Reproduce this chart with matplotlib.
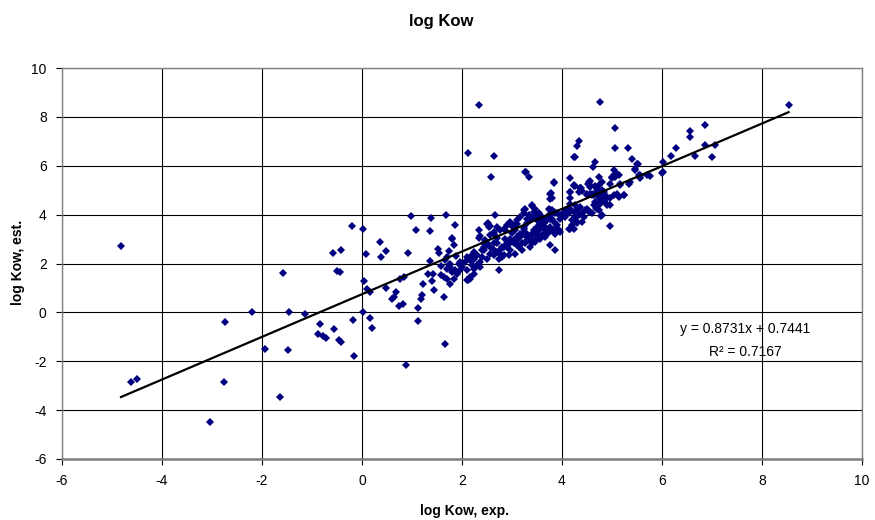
import matplotlib
matplotlib.use('Agg')
import matplotlib.pyplot as plt

plt.rcParams['font.family'] = ['Liberation Sans', 'DejaVu Sans']
plt.rcParams['axes.unicode_minus'] = False

# points (log Kow exp., log Kow est.)
pts = [
    # sparse low end
    (-4.82, 2.70), (-0.20, 3.54), (-0.59, 2.43), (-0.43, 2.54), (-1.58, 1.61),
    (-0.51, 1.69), (-0.45, 1.67), (-2.20, 0.03), (-1.47, 0.03), (-1.14, -0.08),
    (-2.75, -0.41), (-0.18, -0.31), (-0.85, -0.49), (-0.56, -0.67), (-0.89, -0.90),
    (-0.79, -0.96), (-0.73, -1.04), (-0.47, -1.12), (-0.43, -1.20), (-1.95, -1.48),
    (-1.48, -1.52), (-0.16, -1.79), (-4.62, -2.83), (-4.51, -2.73), (-2.77, -2.83),
    (-1.65, -3.46), (-3.05, -4.48),
    # 0 .. 2
    (0.02, 3.40), (0.98, 3.93), (1.38, 3.87), (1.67, 3.99), (1.85, 3.59),
    (1.08, 3.39), (1.36, 3.35), (0.35, 2.88), (0.48, 2.50), (0.38, 2.27),
    (0.08, 2.40), (0.91, 2.42), (1.80, 3.00), (1.51, 2.58), (1.53, 2.43),
    (1.83, 2.75), (1.74, 2.53), (1.36, 2.09), (0.03, 1.28), (0.10, 0.96),
    (0.15, 0.85), (0.48, 1.01), (0.76, 1.38), (0.84, 1.43), (0.67, 0.83),
    (0.59, 0.56), (0.63, 0.63), (0.73, 0.25), (0.81, 0.34), (1.21, 1.16),
    (1.19, 0.70), (1.17, 0.56), (1.43, 0.93), (1.39, 1.28), (1.31, 1.56),
    (1.41, 1.59), (1.63, 0.62), (1.11, 0.18), (1.11, -0.37), (0.02, 0.03),
    (0.15, -0.25), (0.20, -0.64), (0.87, -2.14), (1.66, -1.31), (1.57, 1.89),
    (1.65, 2.13), (1.76, 1.86), (1.86, 1.72), (1.57, 1.52), (1.69, 1.38),
    (1.83, 1.38), (1.76, 1.15), (1.80, 3.05), (1.69, 2.27), (1.76, 2.00),
    (1.79, 1.65), (1.69, 1.79), (1.63, 1.45), (1.93, 2.00), (1.96, 1.72),
    (1.96, 2.06), (1.88, 2.30), (1.73, 1.95), (1.90, 1.55), (2.00, 1.85),
    # 2 .. 3.5
    (2.66, 3.98), (2.49, 3.63), (2.33, 3.39), (2.63, 3.22), (2.93, 3.63),
    (3.09, 3.63), (2.33, 3.03), (2.43, 2.83), (2.56, 2.68), (2.69, 2.82),
    (2.83, 2.68), (2.96, 2.82), (3.09, 2.75), (2.76, 2.40), (2.23, 2.47),
    (2.09, 2.27), (2.19, 2.13), (2.39, 2.27), (2.06, 2.06), (2.36, 1.86),
    (2.23, 1.59), (2.16, 1.45), (2.11, 1.31), (2.73, 1.72), (3.23, 4.18),
    (3.39, 4.34), (3.33, 3.98), (3.49, 3.98), (2.51, 3.66), (2.56, 3.52),
    (2.99, 3.52), (3.06, 3.36), (2.86, 3.39), (2.36, 3.11), (2.16, 2.13),
    (2.23, 2.20), (2.29, 2.34), (2.19, 1.93), (2.09, 1.72), (2.23, 1.79),
    (2.29, 1.93), (2.36, 2.06), (2.16, 1.38), (2.09, 1.31), (2.49, 2.82),
    (2.63, 2.54), (2.69, 2.47), (2.76, 2.54), (2.79, 2.68), (2.56, 2.40),
    (2.73, 2.20), (2.63, 2.34), (2.83, 2.34), (2.89, 2.68), (2.96, 2.54),
    (3.03, 2.82), (3.09, 2.95), (3.16, 3.09), (3.23, 3.22), (3.26, 2.82),
    (3.33, 3.02), (3.39, 3.22), (3.43, 3.36), (3.49, 3.50), (3.36, 2.68),
    (3.19, 2.54), (3.06, 2.40), (2.93, 2.34), (2.39, 2.54), (2.43, 2.68),
    (3.03, 3.57), (2.96, 3.70), (2.89, 3.57), (2.83, 3.43), (2.76, 3.36),
    (2.69, 3.50), (2.63, 3.29), (2.56, 3.16), (2.53, 3.50), (3.16, 3.91),
    (3.09, 3.77), (3.23, 3.43), (3.16, 3.22), (3.09, 3.09), (3.29, 3.22),
    (3.36, 3.09), (3.03, 2.95), (2.96, 3.02), (2.89, 2.82), (2.63, 2.82),
    (2.49, 2.75), (2.43, 2.54), (2.79, 2.27), (3.13, 2.68), (3.19, 2.82),
    (2.63, 6.41), (2.57, 5.56), (3.27, 5.73), (3.34, 5.56), (2.34, 8.50),
    (2.11, 6.54), (3.26, 4.25), (3.23, 4.05), (3.29, 3.84), (3.36, 3.91),
    (3.29, 2.95), (3.39, 2.82), (3.46, 2.88), (2.46, 2.95), (2.86, 3.00),
    (3.00, 3.25), (2.70, 3.05), (2.20, 2.35), (2.50, 2.20),
    # 3.5 .. 4.5
    (3.83, 5.32), (4.15, 5.48), (4.25, 5.18), (4.36, 5.07), (4.33, 4.93),
    (4.15, 4.93), (3.78, 4.89), (3.76, 4.63), (3.76, 4.86), (3.79, 4.70),
    (4.36, 4.32), (4.29, 4.18), (4.23, 4.11), (4.16, 4.25), (4.08, 4.18),
    (4.39, 4.05), (4.33, 3.98), (4.26, 3.84), (4.29, 3.70), (4.19, 3.57),
    (4.23, 3.43), (4.15, 3.43), (4.03, 3.98), (3.96, 3.84), (3.89, 4.05),
    (3.83, 4.11), (3.76, 4.18), (3.73, 3.98), (3.79, 3.84), (3.69, 3.77),
    (3.63, 3.64), (3.59, 3.50), (3.66, 3.36), (3.73, 3.29), (3.79, 3.36),
    (3.86, 3.43), (3.93, 3.36), (3.86, 2.54), (3.76, 2.75), (3.53, 4.05),
    (3.46, 4.25), (3.39, 4.39), (3.43, 4.11), (3.49, 3.91), (3.56, 3.77),
    (3.43, 3.29), (3.49, 3.16), (3.56, 3.02), (3.63, 3.16), (3.66, 3.09),
    (4.16, 4.45), (4.26, 4.39), (4.46, 4.18), (4.53, 4.11), (4.43, 3.91),
    (4.26, 3.91), (4.19, 3.77), (4.29, 3.64), (4.39, 3.70), (3.73, 4.25),
    (3.79, 4.18), (3.86, 4.05), (3.96, 3.98), (4.03, 4.11), (4.09, 4.18),
    (4.06, 3.91), (4.13, 4.05), (3.56, 3.98), (3.63, 3.84), (3.76, 3.84),
    (3.83, 3.70), (3.89, 3.57), (3.86, 3.22), (3.76, 3.50), (3.66, 3.50),
    (3.56, 3.64), (3.49, 3.77), (3.43, 3.91), (3.36, 3.77), (3.29, 3.64),
    (3.23, 3.50), (3.19, 3.22), (3.26, 3.16), (3.33, 3.02), (3.39, 3.16),
    (3.46, 2.95), (3.53, 3.36), (3.59, 3.16), (3.69, 3.22), (3.96, 3.29),
    (4.13, 3.43), (4.25, 6.37), (4.33, 7.01), (4.29, 6.80), (4.24, 6.37),
    (4.24, 5.16), (4.37, 5.07), (4.23, 5.20), (4.16, 4.93), (4.39, 4.97),
    (4.35, 5.07), (4.16, 4.66), (3.83, 5.31), (3.26, 5.75),
    # 4.5 .. 6
    (5.39, 6.27), (5.51, 6.07), (4.66, 6.16), (4.61, 5.96), (5.03, 5.82),
    (5.09, 5.68), (5.06, 5.52), (4.99, 5.48), (5.45, 5.86), (5.55, 5.61),
    (5.69, 5.61), (5.76, 5.57), (4.51, 5.27), (4.56, 5.38), (4.73, 5.52),
    (4.66, 5.18), (4.69, 5.07), (4.49, 4.86), (4.56, 4.86), (4.63, 4.80),
    (4.73, 4.82), (4.84, 4.93), (4.89, 4.72), (4.83, 4.59), (4.76, 4.62),
    (5.13, 4.72), (5.24, 4.82), (4.96, 4.39), (4.68, 4.29), (4.73, 4.18),
    (4.53, 4.15), (4.49, 4.23), (4.78, 3.96), (4.95, 3.52), (4.75, 8.59),
    (5.05, 7.55), (5.05, 6.73), (5.31, 6.71), (5.55, 5.50), (6.01, 5.74),
    (4.69, 5.00), (4.49, 4.80), (4.59, 4.80), (5.15, 5.20), (5.33, 5.27),
    (5.23, 4.80), (4.79, 4.80), (4.73, 4.66), (4.63, 4.39), (4.69, 4.25),
    (4.89, 4.39), (4.79, 3.98), (4.56, 5.14), (4.73, 5.20), (4.79, 5.34),
    (4.96, 5.27), (4.59, 4.86), (4.79, 4.66), (4.86, 4.52), (4.96, 4.66),
    (5.03, 4.80), (5.09, 4.86), (4.76, 4.45), (4.66, 4.52), (4.59, 4.05),
    (5.49, 6.07), (5.46, 5.82), (5.03, 5.61), (4.99, 5.55), (5.13, 5.61),
    (5.53, 5.61), (5.56, 5.55), (5.99, 5.72), (5.16, 5.27), (5.36, 5.34),
    (4.79, 5.00), (4.86, 4.66), (4.53, 5.34), (4.56, 5.23), (4.69, 4.93),
    (4.83, 4.80),
    # upper end
    (6.01, 6.16), (6.18, 6.41), (6.28, 6.73), (6.66, 6.39), (7.00, 6.37),
    (6.86, 7.68), (6.56, 7.43), (6.56, 7.18), (6.86, 6.84), (7.05, 6.84),
    (8.53, 8.50),
]
x_exp = [p[0] for p in pts]
y_est = [p[1] for p in pts]

slope = 0.8731
intercept = 0.7441
r_squared = 0.7167

fig = plt.figure(figsize=(8.75, 5.2), dpi=100)
ax = fig.add_axes([62/875, 61/520, 800/875, 391/520])

ax.plot(x_exp, y_est, 'D', color='#000080', markersize=3.8,
        markeredgewidth=0, zorder=3)

x_fit = [min(x_exp), max(x_exp)]
y_fit = [slope * x + intercept for x in x_fit]
ax.plot(x_fit, y_fit, color='black', lw=1.6, zorder=4)

ax.set_xlim(-6, 10)
ax.set_ylim(-6, 10)
ax.set_xticks(range(-6, 11, 2))
ax.set_yticks(range(-6, 11, 2))
ax.grid(True, color='black', lw=0.8)
ax.set_axisbelow(True)
for side in ax.spines:
    ax.spines[side].set_color('#808080')
    ax.spines[side].set_linewidth(1.0)
ax.spines['bottom'].set_linewidth(1.8)
ax.tick_params(direction='out', length=4, width=0.8, labelsize=10, pad=7)

ax.text(7.66, -0.70, 'y = %.4fx + %.4f' % (slope, intercept),
        ha='center', va='center', fontsize=10)
ax.text(7.66, -1.64, 'R² = %.4f' % r_squared,
        ha='center', va='center', fontsize=10)

fig.text(0.504, 0.958, 'log Kow', ha='center', va='center',
         fontsize=12, fontweight='bold')
fig.text(0.531, 0.017, 'log Kow, exp.', ha='center', va='center',
         fontsize=10, fontweight='bold')
fig.text(0.021, 0.496, 'log Kow, est.', ha='center', va='center',
         rotation=90, fontsize=10, fontweight='bold')

fig.savefig('out.png', dpi=100)
